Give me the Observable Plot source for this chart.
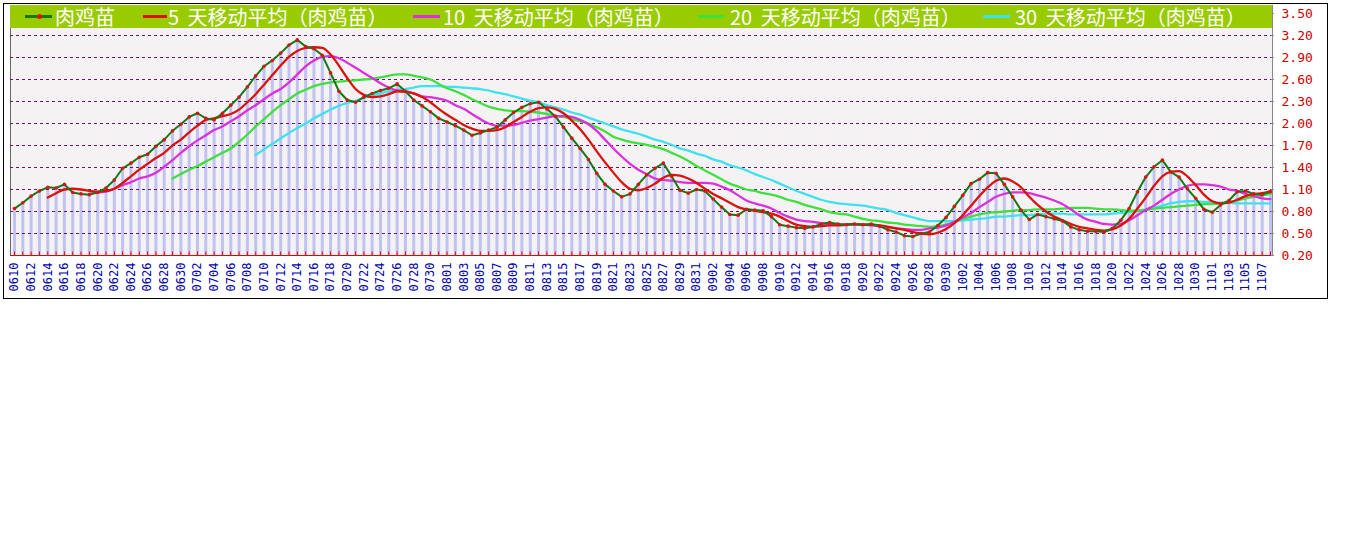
<!DOCTYPE html>
<html><head><meta charset="utf-8">
<script src="https://cdn.jsdelivr.net/npm/d3@7"></script>
<script src="https://cdn.jsdelivr.net/npm/@observablehq/plot@0.6"></script>
<style>
body{margin:0;background:#fff;}
#wrap{position:relative;width:1345px;height:541px;overflow:hidden;}
#box{position:absolute;left:3px;top:3px;width:1323px;height:294px;border:1px solid #000;}
#paper{position:absolute;left:10px;top:5px;width:1261px;height:250px;background:#f4f2f2;border-left:1px solid #666;border-right:1px solid #888;}
#chart{position:absolute;left:0;top:0;}
#legend{position:absolute;left:10px;top:5px;width:1262px;height:23px;background:#99cc00;font-family:"Noto Sans CJK SC";font-size:20px;line-height:23px;color:#fff;}
.item{position:absolute;top:0;white-space:pre;word-spacing:4px;}
.sw{position:absolute;top:10px;height:3px;}
.dotsw{position:absolute;top:9px;width:5px;height:5px;border-radius:3px;background:#e01010;}
</style>
</head><body>
<div id="wrap">
  <div id="box"></div>
  <div id="paper"></div>
  <div id="chart"></div>
  <div id="legend"></div>
</div>
<script>
const dates = [
"0610","0611","0612","0613","0614","0615","0616","0617","0618","0619","0620","0621","0622","0623","0624","0625","0626","0627","0628","0629","0630",
"0701","0702","0703","0704","0705","0706","0707","0708","0709","0710","0711","0712","0713","0714","0715","0716","0717","0718","0719","0720","0721","0722","0723","0724","0725","0726","0727","0728","0729","0730","0731",
"0801","0802","0803","0804","0805","0806","0807","0808","0809","0810","0811","0812","0813","0814","0815","0816","0817","0818","0819","0820","0821","0822","0823","0824","0825","0826","0827","0828","0829","0830","0831",
"0901","0902","0903","0904","0905","0906","0907","0908","0909","0910","0911","0912","0913","0914","0915","0916","0917","0918","0919","0920","0921","0922","0923","0924","0925","0926","0927","0928","0929","0930",
"1001","1002","1003","1004","1005","1006","1007","1008","1009","1010","1011","1012","1013","1014","1015","1016","1017","1018","1019","1020","1021","1022","1023","1024","1025","1026","1027","1028","1029","1030","1031",
"1101","1102","1103","1104","1105","1106","1107","1108"];

const raw = [
0.84,0.92,1.01,1.08,1.13,1.12,1.17,1.06,1.04,1.03,
1.06,1.12,1.23,1.39,1.46,1.54,1.58,1.69,1.78,1.90,
1.99,2.09,2.14,2.07,2.05,2.14,2.25,2.36,2.50,2.65,
2.78,2.86,2.96,3.07,3.14,3.05,3.02,2.93,2.69,2.44,
2.32,2.29,2.36,2.41,2.45,2.48,2.54,2.44,2.32,2.24,
2.16,2.07,2.02,1.97,1.91,1.84,1.87,1.91,1.95,2.05,
2.15,2.22,2.27,2.29,2.20,2.10,1.95,1.80,1.66,1.51,
1.32,1.17,1.08,1.00,1.04,1.17,1.30,1.39,1.46,1.28,
1.09,1.05,1.10,1.08,0.97,0.86,0.76,0.75,0.83,0.82,
0.81,0.73,0.62,0.60,0.58,0.57,0.59,0.63,0.65,0.63,
0.62,0.63,0.62,0.63,0.60,0.55,0.52,0.47,0.46,0.50,
0.52,0.61,0.72,0.87,1.02,1.18,1.24,1.33,1.32,1.17,
1.00,0.82,0.69,0.76,0.73,0.70,0.67,0.59,0.55,0.53,
0.53,0.52,0.57,0.68,0.84,1.07,1.27,1.41,1.50,1.34,
1.27,1.11,0.98,0.83,0.79,0.89,0.95,1.07,1.08,1.04,
1.03,1.07];

const ma5Start = "0614";
const ma5 = [
0.99,1.05,1.10,1.11,1.10,1.08,1.07,1.08,1.11,1.19,
1.28,1.37,1.45,1.53,1.60,1.70,1.78,1.88,1.97,2.05,
2.07,2.10,2.13,2.19,2.29,2.40,2.53,2.66,2.79,2.91,
2.99,3.03,3.04,3.03,2.94,2.79,2.62,2.47,2.39,2.36,
2.37,2.40,2.44,2.43,2.41,2.36,2.29,2.20,2.12,2.05,
1.98,1.93,1.90,1.90,1.91,1.95,2.02,2.09,2.16,2.21,
2.22,2.20,2.14,2.04,1.92,1.78,1.62,1.47,1.33,1.20,
1.11,1.09,1.12,1.18,1.26,1.30,1.29,1.25,1.19,1.11,
1.04,0.98,0.92,0.86,0.83,0.81,0.79,0.77,0.73,0.67,
0.62,0.60,0.59,0.60,0.61,0.61,0.62,0.63,0.62,0.62,
0.61,0.59,0.57,0.55,0.52,0.50,0.49,0.51,0.56,0.64,
0.75,0.88,1.01,1.13,1.22,1.25,1.21,1.13,1.00,0.89,
0.80,0.73,0.68,0.63,0.59,0.57,0.55,0.54,0.56,0.61,
0.70,0.84,0.99,1.15,1.28,1.34,1.35,1.28,1.16,1.03,
0.94,0.91,0.92,0.96,1.01,1.04,1.05,1.08];

const ma10Start = "0619";
const ma10 = [
1.04,1.06,1.07,1.11,1.16,1.20,1.25,1.28,1.33,1.41,
1.50,1.60,1.69,1.77,1.84,1.91,1.96,2.03,2.10,2.18,
2.25,2.33,2.41,2.47,2.56,2.67,2.78,2.86,2.91,2.92,
2.89,2.83,2.76,2.69,2.62,2.55,2.49,2.45,2.44,2.41,
2.37,2.36,2.34,2.31,2.25,2.20,2.13,2.06,2.00,1.97,
1.97,1.98,2.01,2.04,2.06,2.08,2.10,2.10,2.09,2.05,
1.99,1.90,1.78,1.66,1.55,1.45,1.37,1.31,1.25,1.23,
1.22,1.20,1.19,1.19,1.19,1.18,1.14,1.09,1.02,0.95,
0.91,0.88,0.84,0.78,0.73,0.69,0.67,0.66,0.64,0.63,
0.62,0.62,0.62,0.62,0.61,0.60,0.59,0.57,0.56,0.55,
0.55,0.57,0.58,0.61,0.66,0.72,0.78,0.86,0.93,1.00,
1.04,1.06,1.06,1.05,1.02,0.99,0.95,0.90,0.83,0.75,
0.69,0.66,0.63,0.62,0.63,0.68,0.75,0.82,0.88,0.96,
1.04,1.10,1.15,1.17,1.17,1.16,1.14,1.10,1.08,1.04,
1.01,0.98,0.97];

const ma20Start = "0629";
const ma20 = [
1.25,1.31,1.37,1.42,1.48,1.54,1.60,1.66,1.75,1.85,
1.96,2.06,2.16,2.25,2.33,2.41,2.46,2.51,2.54,2.56,
2.57,2.58,2.59,2.60,2.61,2.63,2.65,2.67,2.67,2.65,
2.63,2.60,2.54,2.48,2.44,2.39,2.33,2.28,2.23,2.20,
2.18,2.17,2.17,2.16,2.15,2.13,2.10,2.09,2.06,2.03,
2.00,1.95,1.89,1.82,1.78,1.75,1.73,1.71,1.68,1.65,
1.60,1.55,1.49,1.42,1.36,1.30,1.24,1.18,1.14,1.10,
1.08,1.05,1.03,1.00,0.96,0.93,0.89,0.86,0.83,0.79,
0.77,0.76,0.73,0.70,0.68,0.67,0.65,0.64,0.62,0.61,
0.60,0.59,0.60,0.62,0.66,0.70,0.73,0.76,0.78,0.79,
0.80,0.81,0.82,0.82,0.83,0.83,0.83,0.84,0.85,0.85,
0.85,0.84,0.83,0.83,0.82,0.81,0.81,0.82,0.84,0.85,
0.86,0.87,0.88,0.89,0.90,0.90,0.91,0.93,0.95,0.98,
1.00,1.02,1.04];

const ma30Start = "0709";
const ma30 = [
1.57,1.65,1.72,1.80,1.87,1.94,2.00,2.07,2.13,2.19,
2.24,2.28,2.31,2.35,2.38,2.41,2.44,2.46,2.47,2.49,
2.51,2.51,2.51,2.50,2.50,2.49,2.48,2.47,2.45,2.42,
2.40,2.37,2.34,2.31,2.29,2.25,2.22,2.19,2.15,2.12,
2.08,2.04,2.00,1.96,1.92,1.89,1.86,1.82,1.78,1.75,
1.71,1.66,1.63,1.59,1.56,1.51,1.48,1.43,1.40,1.36,
1.31,1.27,1.23,1.18,1.13,1.08,1.04,1.00,0.96,0.93,
0.91,0.90,0.89,0.88,0.86,0.84,0.82,0.78,0.75,0.72,
0.69,0.67,0.67,0.67,0.67,0.68,0.69,0.70,0.71,0.73,
0.73,0.74,0.75,0.75,0.76,0.77,0.77,0.77,0.76,0.76,
0.76,0.76,0.76,0.77,0.78,0.79,0.81,0.83,0.85,0.88,
0.91,0.93,0.94,0.94,0.93,0.93,0.92,0.92,0.91,0.91,
0.91,0.91,0.91];

const yTicks = [0.20,0.50,0.80,1.10,1.40,1.70,2.00,2.30,2.60,2.90,3.20,3.50];
const xTickLabels = dates.filter((d, i) => i % 2 === 0);

const seriesNames = ["肉鸡苗","5 天移动平均（肉鸡苗）","10 天移动平均（肉鸡苗）","20 天移动平均（肉鸡苗）","30 天移动平均（肉鸡苗）"];
const seriesColors = ["#137a13","#dd1010","#dd30dd","#3ee03e","#3ee2ee"];

const rawRows = raw.map((v, i) => ({i, v}));
const toRows = (vals, start) => { const s = dates.indexOf(start); return vals.map((v, k) => ({i: s + k, v})); };
const dayIdx = dates.map((d, i) => i);
const xTickIdx = xTickLabels.map(l => dates.indexOf(l));

// small upward tick glyph for the day ticks on the bottom axis
const upTick = {draw(context) { context.moveTo(0, 0); context.lineTo(0, -4); }};

const chart = Plot.plot({
  width: 1345, height: 300,
  marginLeft: 14, marginRight: 75, marginTop: 13, marginBottom: 45,
  style: {background: "transparent", fontFamily: "DejaVu Sans Mono", overflow: "visible"},
  x: {domain: [0, dates.length - 1]},
  y: {domain: [yTicks[0], yTicks[yTicks.length - 1]]},
  marks: [
    Plot.ruleX(rawRows, {x: "i", y1: yTicks[0], y2: "v", stroke: "#c2c2f2", strokeWidth: 3}),
    Plot.ruleY(yTicks.slice(1, -1), {stroke: "#6a1670", strokeDasharray: "3,3", strokeWidth: 1, insetLeft: -4, insetRight: -2}),
    Plot.ruleY([yTicks[0]], {stroke: "#e00000", strokeWidth: 1, insetLeft: -4, insetRight: -2}),
    Plot.dot(dayIdx, {x: d => d, y: yTicks[0], symbol: upTick, stroke: "#e00000", strokeWidth: 1, fill: "none"}),
    Plot.axisX(xTickIdx, {tickFormat: i => dates[i], tickRotate: -90, tickSize: 0, tickPadding: 7, fill: "#0000b0", fontSize: 12, label: null}),
    Plot.axisY(yTicks, {anchor: "right", tickFormat: d => d.toFixed(2), tickSize: 3, tickPadding: 8, stroke: "#888", fill: "#cc0000", fontSize: 13, label: null}),
    Plot.line(toRows(ma30, ma30Start), {x: "i", y: "v", stroke: seriesColors[4], strokeWidth: 2.3, curve: "monotone-x"}),
    Plot.line(toRows(ma20, ma20Start), {x: "i", y: "v", stroke: seriesColors[3], strokeWidth: 2.3, curve: "monotone-x"}),
    Plot.line(toRows(ma10, ma10Start), {x: "i", y: "v", stroke: seriesColors[2], strokeWidth: 2.3, curve: "monotone-x"}),
    Plot.line(toRows(ma5, ma5Start), {x: "i", y: "v", stroke: seriesColors[1], strokeWidth: 2.3, curve: "monotone-x"}),
    Plot.line(rawRows, {x: "i", y: "v", stroke: seriesColors[0], strokeWidth: 2}),
    Plot.dot(rawRows, {x: "i", y: "v", r: 1.8, fill: "#e01010", stroke: "none"})
  ]
});
document.getElementById("chart").appendChild(chart);

// legend
const legend = document.getElementById("legend");
const swPos = [[15, 27], [133, 24], [403, 27], [688, 26], [973, 27]];
const txtPos = [45, 158, 433, 720, 1005];
seriesNames.forEach((name, k) => {
  const sw = document.createElement("div");
  sw.className = "sw";
  sw.style.left = swPos[k][0] + "px";
  sw.style.width = swPos[k][1] + "px";
  sw.style.background = seriesColors[k];
  legend.appendChild(sw);
  if (k === 0) {
    const d = document.createElement("div");
    d.className = "dotsw";
    d.style.left = (swPos[0][0] + swPos[0][1] / 2 - 2) + "px";
    legend.appendChild(d);
  }
  const t = document.createElement("div");
  t.className = "item";
  t.style.left = txtPos[k] + "px";
  t.textContent = name;
  legend.appendChild(t);
});
</script>
</body></html>
